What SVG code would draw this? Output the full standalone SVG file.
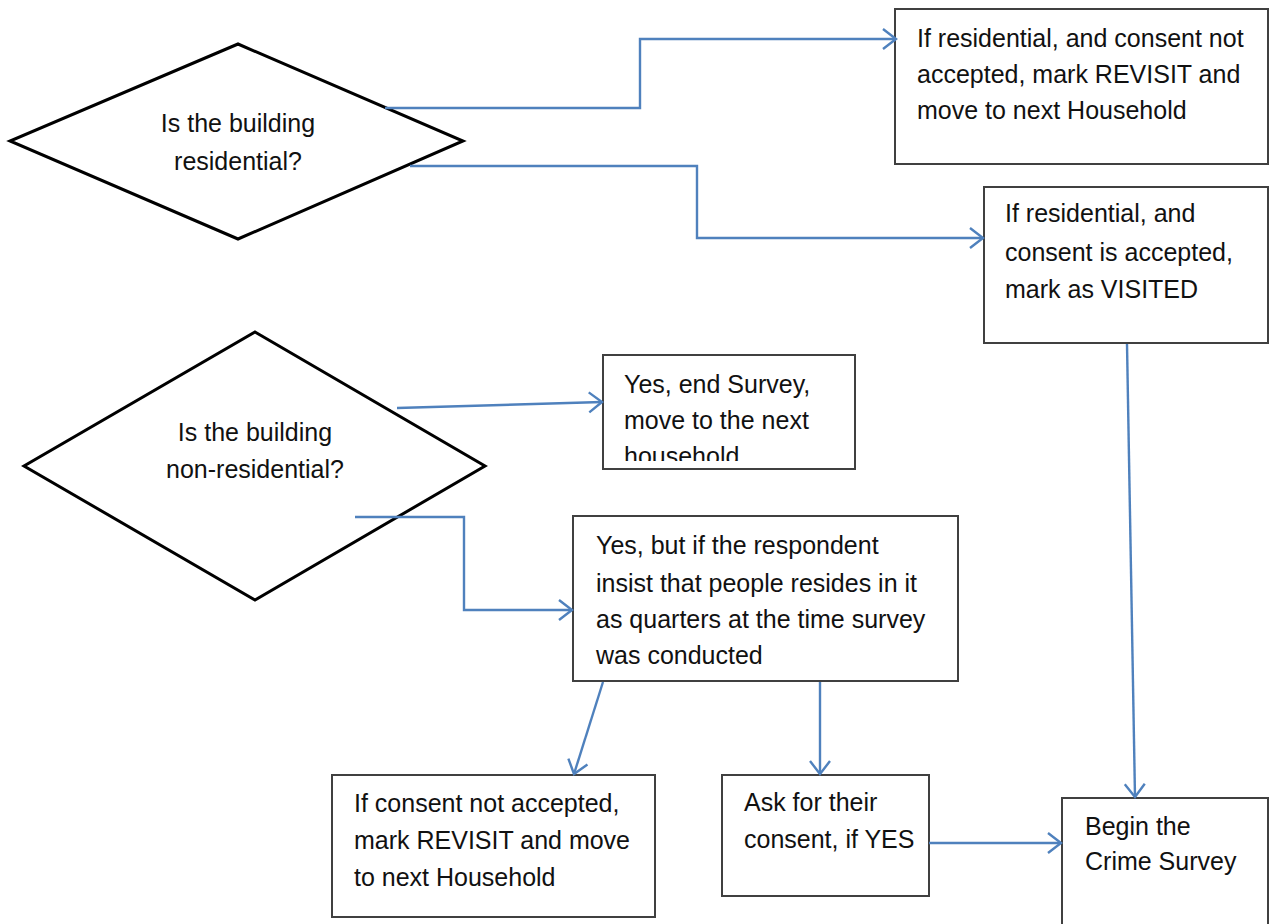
<svg xmlns="http://www.w3.org/2000/svg" width="1275" height="924" viewBox="0 0 1275 924">
<style>
.box{fill:#fff;stroke:#404040;stroke-width:2}
.dia{fill:#fff;stroke:#000;stroke-width:3}
.t{font-family:"Liberation Sans",Arial,sans-serif;font-size:25px;fill:#111}
.c{fill:none;stroke:#4F81BD;stroke-width:2.4;marker-end:url(#arr)}
</style>
<defs>
<marker id="arr" markerUnits="userSpaceOnUse" markerWidth="20" markerHeight="24" refX="15" refY="12" orient="auto">
<path d="M2,2 L15,12 L2,22" fill="none" stroke="#4F81BD" stroke-width="2.4"/>
</marker>
<clipPath id="clip3"><rect x="603" y="355" width="252" height="106"/></clipPath>
</defs>
<rect width="1275" height="924" fill="#fff"/>
<g id="n1">
<polygon class="dia" points="238,44 463,141 238,239 10,141"/>
<text class="t" x="238" y="132" text-anchor="middle">Is the building</text>
<text class="t" x="238" y="170" text-anchor="middle">residential?</text>
</g>
<g id="n2">
<polygon class="dia" points="255,332 485,466 255,600 24,466"/>
<text class="t" x="255" y="441" text-anchor="middle">Is the building</text>
<text class="t" x="255" y="478" text-anchor="middle">non-residential?</text>
</g>
<g id="b1">
<rect class="box" x="895" y="9" width="373" height="155"/>
<text class="t" x="917" y="47">If residential, and consent not</text>
<text class="t" x="917" y="83">accepted, mark REVISIT and</text>
<text class="t" x="917" y="119">move to next Household</text>
</g>
<g id="b2">
<rect class="box" x="984" y="187" width="284" height="156"/>
<text class="t" x="1005" y="222">If residential, and</text>
<text class="t" x="1005" y="261">consent is accepted,</text>
<text class="t" x="1005" y="298">mark as VISITED</text>
</g>
<g id="b3">
<rect class="box" x="603" y="355" width="252" height="114"/>
<g clip-path="url(#clip3)">
<text class="t" x="624" y="393">Yes, end Survey,</text>
<text class="t" x="624" y="429">move to the next</text>
<text class="t" x="624" y="465">household</text>
</g>
</g>
<g id="b4">
<rect class="box" x="573" y="516" width="385" height="165"/>
<text class="t" x="596" y="554">Yes, but if the respondent</text>
<text class="t" x="596" y="592">insist that people resides in it</text>
<text class="t" x="596" y="628">as quarters at the time survey</text>
<text class="t" x="596" y="664">was conducted</text>
</g>
<g id="b5">
<rect class="box" x="332" y="775" width="323" height="142"/>
<text class="t" x="354" y="812">If consent not accepted,</text>
<text class="t" x="354" y="849">mark REVISIT and move</text>
<text class="t" x="354" y="886">to next Household</text>
</g>
<g id="b6">
<rect class="box" x="722" y="775" width="207" height="121"/>
<text class="t" x="744" y="811">Ask for their</text>
<text class="t" x="744" y="848">consent, if YES</text>
</g>
<g id="b7">
<rect class="box" x="1062" y="798" width="206" height="140"/>
<text class="t" x="1085" y="835">Begin the</text>
<text class="t" x="1085" y="870">Crime Survey</text>
</g>
<g id="connectors">
<polyline class="c" points="385,108 640,108 640,39 896,39"/>
<polyline class="c" points="410,166 697,166 697,238 983,238"/>
<line class="c" x1="397" y1="408" x2="602" y2="402"/>
<polyline class="c" points="355,517 464,517 464,610 572,610"/>
<line class="c" x1="603" y1="682" x2="574" y2="774"/>
<line class="c" x1="820" y1="682" x2="820" y2="774"/>
<line class="c" x1="929" y1="843" x2="1061" y2="843"/>
<line class="c" x1="1127" y1="344" x2="1135" y2="797"/>
</g>
</svg>
